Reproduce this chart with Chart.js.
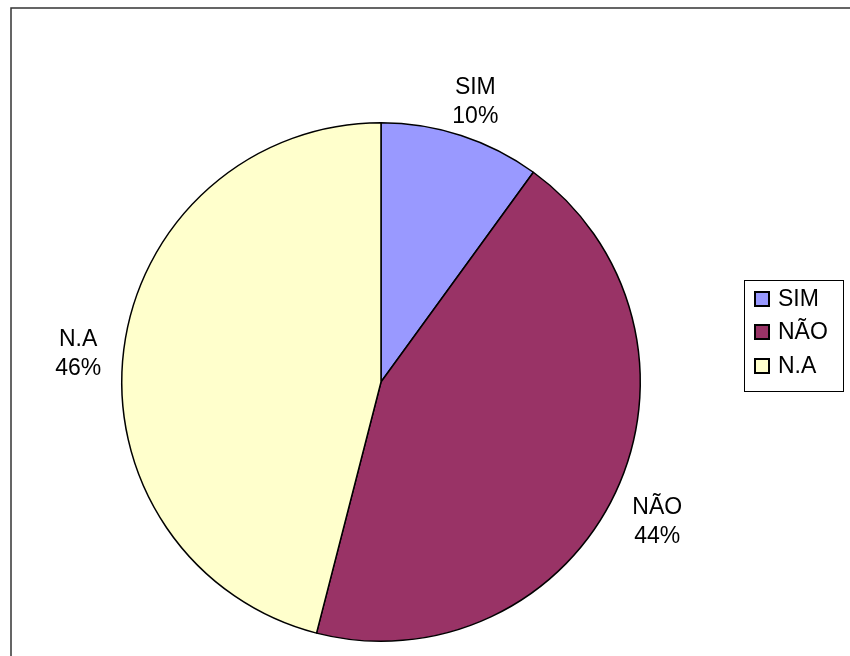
<!DOCTYPE html>
<html>
<head>
<meta charset="utf-8">
<script src="https://cdn.jsdelivr.net/npm/chart.js@4"></script>
<style>
  html, body { margin: 0; padding: 0; background: #fff; }
  #wrap { width: 850px; height: 656px; }
</style>
</head>
<body>
<div id="wrap"><canvas id="pizza" width="850" height="656"></canvas></div>
<script>
    const categorias = ['SIM', 'NÃO', 'N.A'];
    const valores = [10, 44, 46];
    const cores = ['#9999FF', '#993366', '#FFFFCC'];

    const fonte = '23px "Liberation Sans", Arial, sans-serif';

    // moldura externa + legenda + rótulos
    const extras = {
        id: 'extras',
        beforeDraw(chart) {
            const c = chart.ctx;
            c.save();
            c.fillStyle = '#fff';
            c.fillRect(0, 0, chart.width, chart.height);
            c.strokeStyle = '#333';
            c.lineWidth = 1.5;
            c.beginPath();
            c.moveTo(11, chart.height);
            c.lineTo(11, 8);
            c.lineTo(chart.width, 8);
            c.stroke();
            c.restore();
        },
        afterDraw(chart) {
            const c = chart.ctx;
            const meta = chart.getDatasetMeta(0);
            const total = valores.reduce((a, b) => a + b, 0);
            c.save();
            c.font = fonte;
            c.fillStyle = '#000';
            c.textAlign = 'center';
            c.textBaseline = 'middle';
            meta.data.forEach((arc, i) => {
                const p = arc.getProps(['x', 'y', 'startAngle', 'endAngle', 'outerRadius'], true);
                const meio = (p.startAngle + p.endAngle) / 2;
                const d = p.outerRadius + 46;
                const x = p.x + Math.cos(meio) * d;
                const y = p.y + Math.sin(meio) * d + 10;
                c.fillText(categorias[i], x, y - 14);
                c.fillText(Math.round(valores[i] / total * 100) + '%', x, y + 15);
            });

            // legenda
            c.strokeStyle = '#000';
            c.lineWidth = 1;
            c.strokeRect(744.5, 280.5, 99, 111);
            c.textAlign = 'left';
            const linhas = [299, 332, 366];
            categorias.forEach((nome, i) => {
                const y = linhas[i];
                c.fillStyle = cores[i];
                c.fillRect(755, y - 7, 14, 14);
                c.lineWidth = 2;
                c.strokeRect(755, y - 7, 14, 14);
                c.fillStyle = '#000';
                c.fillText(nome, 778, y + 1);
            });
            c.restore();
        }
    };

    const ctx = document.getElementById('pizza').getContext('2d');
    const pizza = new Chart(ctx, {
        type: 'pie',
        data: {
            labels: categorias,
            datasets: [{
                data: valores,
                backgroundColor: cores,
                borderColor: '#000',
                borderWidth: 1.5,
                hoverOffset: 0
            }]
        },
        options: {
            responsive: false,
            animation: false,
            layout: {
                padding: { top: 122, bottom: 14, left: 121, right: 209 }
            },
            plugins: {
                legend: { display: false },
                tooltip: { enabled: false }
            }
        },
        plugins: [extras]
    });
</script>
</body>
</html>
